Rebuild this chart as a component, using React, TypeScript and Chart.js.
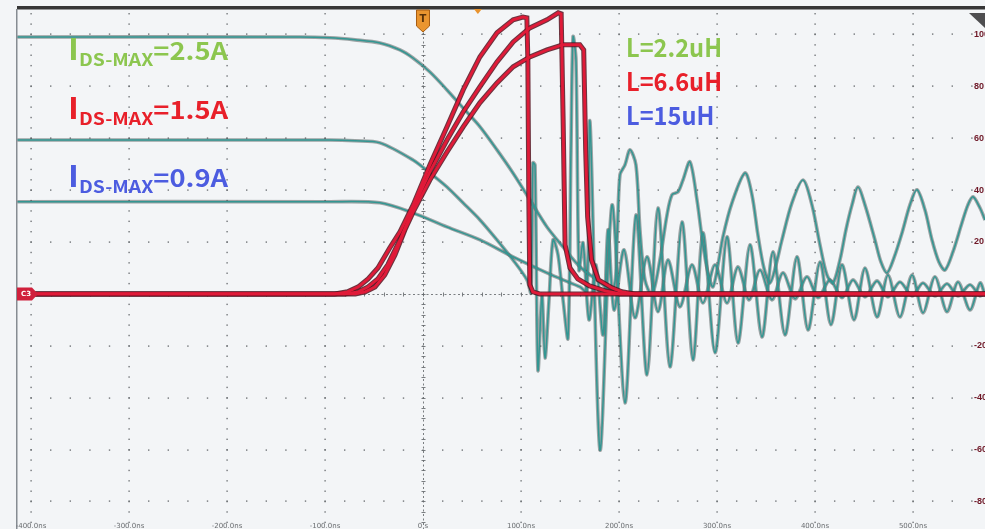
import React, { useEffect, useRef } from "react";
import { Chart, registerables } from "chart.js";

Chart.register(...registerables);

// ---- axes (time in ns, 100 ns/div; amplitude 20 units/div) ----
const X_MIN = -414.3;
const X_MAX = 573.5;
const Y_MIN = -90.6;
const Y_MAX = 109.4;

const xTicks = [-400, -300, -200, -100, 0, 100, 200, 300, 400, 500];
const xTickLabels = ["-400.0ns", "-300.0ns", "-200.0ns", "-100.0ns", "0 s", "100.0ns", "200.0ns", "300.0ns", "400.0ns", "500.0ns"];
const yTicks = [100, 80, 60, 40, 20, 0, -20, -40, -60, -80];
const yTickLabels = ["100", "80", "60", "40", "20", "", "-20", "-40", "-60", "-80"];

// ---- annotation texts ----
const idsValues = ["=2.5A", "=1.5A", "=0.9A"];
const inductorLabels = ["L=2.2uH", "L=6.6uH", "L=15uH"];

// ---- red traces (current) ----
const red1: [number, number][] = [
  [-414, 0], [-90, 0], [-77, 0.8], [-66, 2.7], [-56, 5.8], [-46, 10.0], [-34, 17.7], [-23.5, 23.9],
  [-10, 34.3], [7, 49.7], [24.5, 64.4], [41, 78.6], [58, 91.3], [75.5, 100.6], [92, 105.6],
  [102, 106.7], [106, 106.4], [107, 90.2], [108, 36.2], [109, 3.5], [112, 0.8], [119, 0], [574, 0],
];
const red2: [number, number][] = [
  [-414, 0], [-80, 0], [-66, 0.8], [-56, 2.7], [-46, 5.8], [-36, 11.2], [-23.5, 20.8], [-10, 33.1],
  [7, 47.0], [24.5, 59.3], [41, 70.1], [58, 79.8], [75.5, 89.4], [92, 97.1], [109, 102.5],
  [126.5, 105.6], [138, 108.3], [141, 107.9], [143, 67.1], [145, 18.9], [150, 10.0], [158, 5.8],
  [170, 3.1], [186, 1.2], [201, 0], [574, 0],
];
const red3: [number, number][] = [
  [-414, 0], [-69, 0], [-59, 0.8], [-49, 2.7], [-39, 7.3], [-28.6, 15.0], [-18.4, 24.7], [-10, 31.6],
  [7, 43.9], [24.5, 54.7], [41, 64.4], [58, 73.6], [75.5, 81.3], [92, 87.5], [109, 91.3],
  [126.5, 94.0], [143, 96.0], [160, 96.0], [164, 94.0], [166, 55.5], [168, 29.7], [172, 13.1],
  [179, 5.4], [193, 2.3], [203, 0.8], [216, 0], [574, 0],
];

// ---- teal traces (voltage) ----
const teal1: [number, number][] = [
  [-414, 99.0], [-125.5, 99.0], [-95, 98.7], [-69.4, 97.9], [-43.9, 96.7], [-23.5, 94.0], [-10.2, 90.9],
  [7.1, 85.5], [24.5, 78.6], [40.8, 71.7], [58.2, 64.4], [75.5, 55.5], [91.8, 46.6], [109.2, 36.2],
  [126.5, 25.8], [142.9, 18.1], [160.2, 10.4], [177.6, 5.4], [193.9, 1.5], [198.0, 20.8], [201.0, 45.9],
  [206.1, 49.7], [211.2, 55.5], [217.3, 49.7], [221.4, 24.7], [226.5, 5.4], [233.7, -0.4], [241.8, 13.1],
  [249.0, 30.4], [254.1, 38.2], [260.2, 39.3], [265.3, 43.9], [272.4, 50.9], [279.6, 36.2], [285.7, 18.9],
  [290.8, 8.1], [295.9, 2.7], [301.0, 11.2], [306.1, 22.0], [315.3, 35.1], [328.6, 46.6], [335.7, 38.2],
  [341.8, 22.7], [347.9, 10.0], [354.1, 4.2], [360.2, 11.2], [366.3, 20.8], [376.5, 35.1], [387.8, 43.9],
  [396.9, 34.3], [405.1, 18.9], [412.2, 7.3], [418.4, 4.2], [425.5, 13.1], [431.6, 24.7], [437.8, 34.3],
  [443.9, 41.2], [451.0, 34.3], [461.2, 20.8], [467.3, 12.3], [473.5, 8.1], [480.6, 13.9], [488.8, 23.5],
  [496.9, 34.3], [504.1, 40.1], [512.2, 32.4], [519.4, 20.8], [526.5, 12.3], [532.7, 9.2], [540.8, 16.2],
  [550.0, 27.4], [556.1, 34.3], [561.2, 37.4], [568.4, 33.1], [573.5, 28.5],
];
const teal2: [number, number][] = [
  [-414, 59.3], [-95, 59.3], [-69.4, 59.0], [-43.9, 58.2], [-10.2, 51.6], [7.1, 46.6], [24.5, 41.2],
  [40.8, 35.1], [58.2, 28.5], [75.5, 20.8], [91.8, 13.1], [106.1, 5.4], [110.2, 0.4], [112.2, 50.5],
  [114.3, 49.7], [117.3, -29.3], [121.4, -0.4], [124.5, -24.7], [128.6, -2.3], [132.7, 20.8],
  [137.8, 15.0], [142.9, -2.3], [148.0, -17.0], [151.0, 55.5], [153.1, 99.0], [156.1, 90.2],
  [159.2, 9.2], [163.3, 19.7], [169.4, -10.0], [176.5, 11.2], [183.7, -15.8], [188.8, 24.7],
  [194.9, -6.2], [205.1, 17.0], [216.3, -9.2], [228.6, 14.3], [239.8, -6.9], [250.0, 13.1],
  [262.2, -5.0], [274.5, 11.2], [285.7, -3.5], [298.0, 11.2], [310.2, -3.5], [321.4, 10.4],
  [332.7, -2.3], [343.9, 9.2], [356.1, -2.3], [367.3, 8.1], [379.6, -1.9], [391.8, 6.6],
  [403.1, -1.5], [415.3, 5.4], [427.6, -1.5], [438.8, 5.4], [451.0, -1.2], [463.3, 5.0],
  [474.5, -1.2], [486.7, 4.6], [499.0, -0.8], [510.2, 4.2], [522.4, -0.8], [534.7, 3.9],
  [545.9, -0.8], [558.2, 3.5], [568.4, -0.8], [573.5, 0.8],
];
const teal3: [number, number][] = [
  [-414, 35.5], [-95, 35.5], [-43.9, 35.1], [-10.2, 31.2], [24.5, 25.8], [58.2, 20.8], [91.8, 14.3],
  [126.5, 8.1], [142.9, 5.4], [160.2, 2.7], [167.3, 0.8], [170.4, 66.3], [180.6, -60.1], [192.9, 34.3],
  [206.1, -42.0], [217.3, 30.4], [228.6, -31.2], [239.8, 33.1], [252.0, -28.1], [264.3, 27.7],
  [275.5, -25.4], [285.7, 23.5], [298.0, -22.7], [310.2, 22.0], [321.4, -18.9], [333.7, 18.9],
  [345.9, -16.6], [357.1, 16.2], [369.4, -15.8], [381.6, 14.3], [392.9, -13.9], [405.1, 12.3],
  [416.3, -11.9], [427.6, 11.2], [439.8, -10.0], [451.0, 10.0], [463.3, -8.9], [474.5, 7.3],
  [486.7, -8.9], [499.0, 7.3], [510.2, -7.3], [522.4, 6.6], [534.7, -6.9], [545.9, 4.6],
  [558.2, -6.2], [568.4, 4.2], [573.5, -0.4],
];

const FONT = '"Noto Sans CJK SC", "Noto Sans", sans-serif';
const GREEN = "#8cc64f";
const RED = "#e8202a";
const BLUE = "#4c5ce0";
const TEAL = "rgb(50,150,146)";
const TEAL_HALO = "rgba(70,82,82,0.5)";
const CRIMSON = "rgb(224,26,56)";
const CRIMSON_HALO = "rgba(85,18,30,0.85)";

function toXY(pts: [number, number][]) {
  return pts.map(([x, y]) => ({ x, y }));
}

function drawIds(ctx: CanvasRenderingContext2D, x: number, base: number, value: string, color: string, targetW: number) {
  ctx.save();
  ctx.fillStyle = color;
  ctx.textBaseline = "alphabetic";
  ctx.textAlign = "left";
  const fI = `600 29px ${FONT}`;
  const fS = `600 17px ${FONT}`;
  const fV = `600 24px ${FONT}`;
  ctx.font = fI;
  const wI = ctx.measureText("I").width;
  ctx.font = fS;
  const wS = ctx.measureText("DS-MAX").width;
  ctx.font = fV;
  const wV = ctx.measureText(value).width;
  const s = targetW / (wI + wS + wV);
  ctx.translate(x, 0);
  ctx.scale(s, 1);
  ctx.font = fI;
  ctx.fillText("I", 0, base);
  ctx.font = fS;
  ctx.fillText("DS-MAX", wI, base + 6);
  ctx.font = fV;
  ctx.fillText(value, wI + wS, base);
  ctx.restore();
}

const scopePlugin = {
  id: "scope",
  beforeDatasetsDraw(chart: any) {
    const { ctx, chartArea: a, scales } = chart;
    const xs = scales.x;
    const ys = scales.y;
    ctx.save();
    ctx.fillStyle = "rgba(100,104,108,0.9)";
    // vertical dotted grid lines
    xTicks.forEach((xv) => {
      if (xv === 0) return;
      const px = Math.round(xs.getPixelForValue(xv));
      for (let v = -88; v <= 108; v += 4) {
        const py = ys.getPixelForValue(v);
        ctx.fillRect(px - 0.6, py - 0.6, 1.4, 1.4);
      }
    });
    // horizontal dotted grid lines
    yTicks.forEach((yv) => {
      if (yv === 0) return;
      const py = Math.round(ys.getPixelForValue(yv));
      for (let v = -400; v <= 560; v += 20) {
        const px = xs.getPixelForValue(v);
        ctx.fillRect(px - 0.6, py - 0.6, 1.4, 1.4);
      }
    });
    // centre axes, dashed
    ctx.strokeStyle = "rgba(100,104,108,0.85)";
    ctx.lineWidth = 1;
    ctx.setLineDash([2, 2.5]);
    const cx = Math.round(xs.getPixelForValue(0)) + 0.5;
    const cy = Math.round(ys.getPixelForValue(0)) + 0.5;
    ctx.beginPath();
    ctx.moveTo(cx, a.top);
    ctx.lineTo(cx, a.bottom);
    ctx.moveTo(a.left, cy);
    ctx.lineTo(a.right, cy);
    ctx.stroke();
    ctx.setLineDash([]);
    // minor ticks on centre axes
    ctx.beginPath();
    for (let v = -88; v <= 108; v += 4) {
      const py = Math.round(ys.getPixelForValue(v)) + 0.5;
      ctx.moveTo(cx - 2, py);
      ctx.lineTo(cx + 2, py);
    }
    for (let v = -400; v <= 560; v += 20) {
      const px = Math.round(xs.getPixelForValue(v)) + 0.5;
      ctx.moveTo(px, cy - 2);
      ctx.lineTo(px, cy + 2);
    }
    ctx.stroke();
    ctx.restore();
  },
  afterDraw(chart: any) {
    const { ctx, chartArea: a, scales } = chart;
    const xs = scales.x;
    const ys = scales.y;
    ctx.save();
    // frame: top bar and left border
    ctx.fillStyle = "#363636";
    ctx.fillRect(a.left, 6, a.right - a.left, 3.5);
    ctx.fillStyle = "#868c92";
    ctx.fillRect(a.left - 1, 9, 1.5, a.bottom - 9);

    // right-side amplitude labels
    ctx.font = `bold 9px "Liberation Sans", sans-serif`;
    ctx.fillStyle = "#6e1726";
    ctx.textAlign = "left";
    ctx.textBaseline = "middle";
    yTicks.forEach((v, i) => {
      if (!yTickLabels[i]) return;
      ctx.fillText(yTickLabels[i], a.right - 11, ys.getPixelForValue(v));
    });

    // bottom time labels
    ctx.font = `7px "DejaVu Sans", sans-serif`;
    ctx.fillStyle = "#6a6d70";
    ctx.textAlign = "center";
    ctx.textBaseline = "middle";
    xTicks.forEach((v, i) => {
      ctx.fillText(xTickLabels[i], xs.getPixelForValue(v), a.bottom - 3);
    });

    // trigger marker at t = 0
    const tx = xs.getPixelForValue(0);
    ctx.fillStyle = "#ea952f";
    ctx.strokeStyle = "#a85d12";
    ctx.lineWidth = 1;
    ctx.beginPath();
    ctx.moveTo(tx - 6.5, 10);
    ctx.lineTo(tx + 6.5, 10);
    ctx.lineTo(tx + 6.5, 26);
    ctx.lineTo(tx, 32);
    ctx.lineTo(tx - 6.5, 26);
    ctx.closePath();
    ctx.fill();
    ctx.stroke();
    ctx.fillStyle = "#5a3208";
    ctx.font = `bold 10px "DejaVu Sans", sans-serif`;
    ctx.textAlign = "center";
    ctx.textBaseline = "middle";
    ctx.fillText("T", tx, 19);
    // small orange marker on top bar
    const mx = xs.getPixelForValue(56);
    ctx.fillStyle = "#e8932e";
    ctx.beginPath();
    ctx.moveTo(mx - 4, 9);
    ctx.lineTo(mx + 4, 9);
    ctx.lineTo(mx, 14);
    ctx.closePath();
    ctx.fill();

    // top-right grey corner marker
    ctx.fillStyle = "#4e4e50";
    ctx.beginPath();
    ctx.moveTo(a.right - 16, 13);
    ctx.lineTo(a.right, 13);
    ctx.lineTo(a.right, 28);
    ctx.closePath();
    ctx.fill();

    // C3 channel marker
    const cy = ys.getPixelForValue(0);
    ctx.fillStyle = "#d0203c";
    ctx.beginPath();
    ctx.moveTo(a.left, cy - 6.5);
    ctx.lineTo(a.left + 15, cy - 6.5);
    ctx.lineTo(a.left + 21, cy);
    ctx.lineTo(a.left + 15, cy + 6.5);
    ctx.lineTo(a.left, cy + 6.5);
    ctx.closePath();
    ctx.fill();
    ctx.fillStyle = "#ffffff";
    ctx.font = `bold 7px "DejaVu Sans", sans-serif`;
    ctx.textAlign = "center";
    ctx.textBaseline = "middle";
    ctx.fillText("C3", a.left + 9, cy + 0.5);

    // I_DS-MAX annotations
    drawIds(ctx, 68, 60, idsValues[0], GREEN, 160);
    drawIds(ctx, 68, 119, idsValues[1], RED, 160);
    drawIds(ctx, 68, 187, idsValues[2], BLUE, 160);

    // inductance legend
    ctx.font = `600 25px ${FONT}`;
    ctx.textAlign = "left";
    ctx.textBaseline = "alphabetic";
    const lColors = [GREEN, RED, BLUE];
    const lBase = [57, 91, 125];
    const refW = ctx.measureText(inductorLabels[0]).width;
    const ls = 96 / refW;
    inductorLabels.forEach((t, i) => {
      ctx.save();
      ctx.fillStyle = lColors[i];
      ctx.translate(626, 0);
      ctx.scale(ls, 1);
      ctx.fillText(t, 0, lBase[i]);
      ctx.restore();
    });
    ctx.restore();
  },
};

export default function App() {
  const canvasRef = useRef<HTMLCanvasElement | null>(null);

  useEffect(() => {
    document.body.style.margin = "0";
    document.body.style.background = "#f3f5f7";
    const canvas = canvasRef.current;
    if (!canvas) return;
    const teal = [teal1, teal2, teal3];
    const red = [red1, red2, red3];
    const datasets: any[] = [];
    teal.forEach((pts) => {
      datasets.push({ data: toXY(pts), borderColor: TEAL_HALO, borderWidth: 3.6, tension: 0.3, order: 6, pointRadius: 0, fill: false });
      datasets.push({ data: toXY(pts), borderColor: TEAL, borderWidth: 1.5, tension: 0.3, order: 5, pointRadius: 0, fill: false });
    });
    red.forEach((pts) => {
      datasets.push({ data: toXY(pts), borderColor: CRIMSON_HALO, borderWidth: 5, tension: 0, order: 2, pointRadius: 0, fill: false });
      datasets.push({ data: toXY(pts), borderColor: CRIMSON, borderWidth: 2.8, tension: 0, order: 1, pointRadius: 0, fill: false });
    });
    const chart = new Chart(canvas, {
      type: "line",
      data: { datasets },
      options: {
        animation: false,
        responsive: false,
        maintainAspectRatio: false,
        layout: { padding: { left: 17, right: 0, top: 10, bottom: 0 } },
        plugins: { legend: { display: false }, tooltip: { enabled: false } },
        scales: {
          x: { type: "linear", min: X_MIN, max: X_MAX, display: false },
          y: { type: "linear", min: Y_MIN, max: Y_MAX, display: false },
        },
        elements: { point: { radius: 0 } },
      },
      plugins: [scopePlugin],
    } as any);
    return () => chart.destroy();
  }, []);

  return (
    <div style={{ width: 985, height: 529, background: "#f3f5f7", position: "relative", overflow: "hidden" }}>
      <canvas ref={canvasRef} width={985} height={529} style={{ display: "block" }} />
    </div>
  );
}
